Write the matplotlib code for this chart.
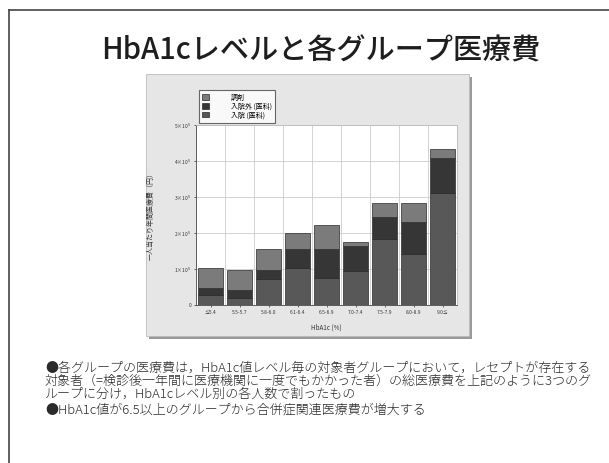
import matplotlib.pyplot as plt
import numpy as np
from matplotlib.patches import Rectangle
from matplotlib.lines import Line2D

plt.rcParams['font.family'] = ['Noto Sans CJK JP', 'DejaVu Sans']

# HbA1c groups and per-person annual costs (units of 1e5 yen)
groups = ["≤5.4", "5.5-5.7", "5.8-6.0", "6.1-6.4", "6.5-6.9",
          "7.0-7.4", "7.5-7.9", "8.0-8.9", "9.0≤"]
cost_inpatient = [0.28, 0.19, 0.72, 1.02, 0.74, 0.95, 1.83, 1.43, 3.11]
cost_outpatient = [0.18, 0.23, 0.24, 0.53, 0.82, 0.70, 0.61, 0.87, 0.96]
cost_pharmacy = [0.56, 0.55, 0.60, 0.46, 0.66, 0.09, 0.40, 0.52, 0.27]
series_labels = ["調剤", "入院外 (医科)", "入院 (医科)"]
yticks = [0, 1, 2, 3, 4, 5]
ytick_labels = ["0", r"1×10$^5$", r"2×10$^5$", r"3×10$^5$", r"4×10$^5$", r"5×10$^5$"]

W, H = 609, 463
fig = plt.figure(figsize=(W / 100, H / 100), dpi=100)
fig.patch.set_facecolor("white")


def fx(px):
    return px / W


def fy(py):
    return 1 - py / H


# slide frame (top and left edge only)
fig.add_artist(Line2D([fx(9), 1], [fy(10), fy(10)], color="#444444", lw=1.2))
fig.add_artist(Line2D([fx(9), fx(9)], [fy(10), 0], color="#444444", lw=1.2))

fig.text(fx(321), fy(51), "HbA1cレベルと各グループ医療費", ha="center", va="center",
         fontsize=21, fontweight="medium", color="#1e1e1e")

# grey chart panel with a drop shadow
fig.add_artist(Rectangle((fx(149), fy(339)), fx(323), 262 / H, transform=fig.transFigure,
                         facecolor="#9a9a9a", edgecolor="none", zorder=0))
fig.add_artist(Rectangle((fx(146), fy(336)), fx(323), 262 / H, transform=fig.transFigure,
                         facecolor="#e6e6e6", edgecolor="#bbbbbb", lw=0.6, zorder=0))

ax = fig.add_axes([fx(196), fy(305), 261 / W, 180 / H])
ax.set_facecolor("white")
x = np.arange(len(groups))
bottom2 = np.array(cost_inpatient)
bottom3 = bottom2 + np.array(cost_outpatient)
kw = dict(width=0.86, edgecolor="#2a2a2a", linewidth=0.5, zorder=3)
b1 = ax.bar(x, cost_inpatient, color="#585858", **kw)
b2 = ax.bar(x, cost_outpatient, bottom=bottom2, color="#363636", **kw)
b3 = ax.bar(x, cost_pharmacy, bottom=bottom3, color="#7b7b7b", **kw)

ax.set_xlim(-0.5, len(groups) - 0.5)
ax.set_ylim(0, 5)
ax.set_yticks(yticks)
ax.set_yticklabels(ytick_labels, fontsize=3.5)
ax.set_xticks(x)
ax.set_xticklabels(groups, fontsize=3.5)
ax.set_xticks(np.arange(0.5, len(groups) - 1, 1), minor=True)
ax.grid(True, which="major", axis="y", color="#cccccc", lw=0.6, zorder=0)
ax.grid(True, which="minor", axis="x", color="#cccccc", lw=0.6, zorder=0)
ax.tick_params(axis="both", length=1.5, width=0.5, pad=2, colors="#333333")
ax.tick_params(axis="x", which="minor", length=0)
for s in ax.spines.values():
    s.set_color("#bbbbbb")
    s.set_linewidth(0.6)
ax.spines["left"].set_color("#444444")
ax.spines["bottom"].set_color("#444444")
ax.set_xlabel("HbA1c (%)", fontsize=4.5, labelpad=6, color="#333333")
ax.set_ylabel("一人当たり年間医療費（円）", fontsize=5, labelpad=14, color="#333333")

leg = fig.legend([b3, b2, b1], series_labels, loc="upper left",
                 bbox_to_anchor=(fx(199), fy(90)), fontsize=5, frameon=True,
                 fancybox=False, edgecolor="#444444", handlelength=0.9,
                 handleheight=0.8, labelspacing=0.12, borderpad=0.5,
                 handletextpad=3.2, borderaxespad=0)
leg.get_frame().set_linewidth(0.8)

body = [
    (368, "●各グループの医療費は，HbA1c値レベル毎の対象者グループにおいて，レセプトが存在する"),
    (381, "対象者（=検診後一年間に医療機関に一度でもかかった者）の総医療費を上記のように3つのグ"),
    (394, "ループに分け，HbA1cレベル別の各人数で割ったもの"),
    (410, "●HbA1c値が6.5以上のグループから合併症関連医療費が増大する"),
]
for py, line in body:
    fig.text(fx(45), fy(py), line, ha="left", va="center", fontsize=9.4,
             fontweight="light", color="#2a2a2a")

fig.savefig("out.png", dpi=100)
